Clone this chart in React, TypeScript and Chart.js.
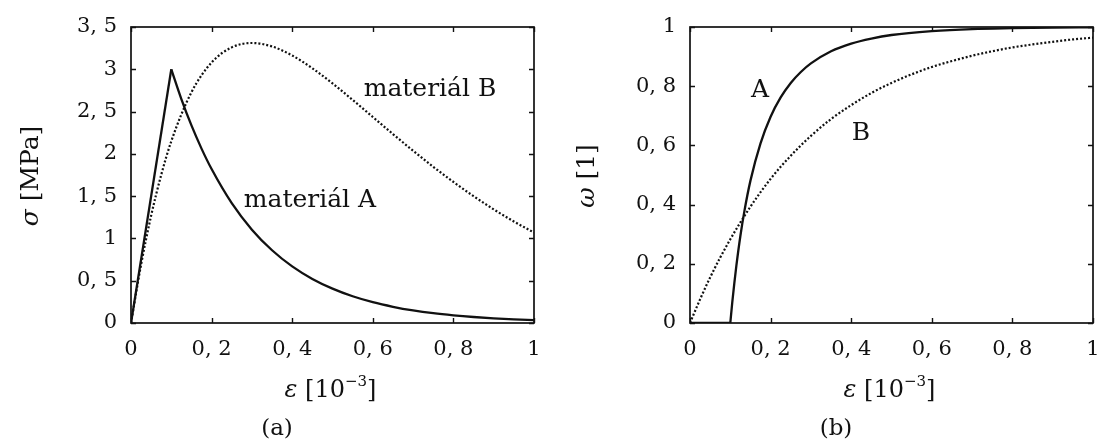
import React, { useEffect, useRef } from "react";
import { Chart, registerables } from "chart.js";

Chart.register(...registerables);

// ---------- data ----------
const xTickLabels = ["0", "0, 2", "0, 4", "0, 6", "0, 8", "1"];
const sigmaTickLabels = ["0", "0, 5", "1", "1, 5", "2", "2, 5", "3", "3, 5"];
const omegaTickLabels = ["0", "0, 2", "0, 4", "0, 6", "0, 8", "1"];

// material A – stress (linear rise, then softening)
const strainARise = [0, 0.1];
const sigmaARise = [0, 3];
const strainADecay = [0.1, 0.125, 0.15, 0.175, 0.2, 0.25, 0.3, 0.35, 0.4, 0.45, 0.5, 0.55, 0.6, 0.65, 0.7, 0.75, 0.8, 0.85, 0.9, 0.95, 1.0];
const sigmaADecay = [3, 2.648, 2.336, 2.062, 1.82, 1.417, 1.104, 0.86, 0.669, 0.521, 0.406, 0.316, 0.246, 0.192, 0.149, 0.116, 0.091, 0.071, 0.055, 0.043, 0.033];

// material B – stress and damage
const strainB = [0, 0.025, 0.05, 0.075, 0.1, 0.15, 0.2, 0.25, 0.3, 0.35, 0.4, 0.45, 0.5, 0.55, 0.6, 0.65, 0.7, 0.75, 0.8, 0.85, 0.9, 0.95, 1.0];
const sigmaB = [0, 0.69, 1.27, 1.752, 2.15, 2.729, 3.08, 3.259, 3.311, 3.27, 3.163, 3.012, 2.833, 2.638, 2.436, 2.234, 2.037, 1.847, 1.668, 1.5, 1.344, 1.2, 1.07];
const omegaB = [0, 0.08, 0.154, 0.221, 0.283, 0.393, 0.487, 0.565, 0.632, 0.689, 0.736, 0.777, 0.811, 0.84, 0.865, 0.885, 0.903, 0.918, 0.931, 0.941, 0.95, 0.958, 0.964];

// material A – damage
const strainAFlat = [0, 0.1];
const omegaAFlat = [0, 0];
const strainAGrow = [0.1, 0.105, 0.11, 0.115, 0.125, 0.135, 0.15, 0.175, 0.2, 0.225, 0.25, 0.275, 0.3, 0.35, 0.4, 0.45, 0.5, 0.6, 0.7, 0.8, 0.9, 1.0];
const omegaAGrow = [0, 0.071, 0.135, 0.193, 0.294, 0.378, 0.481, 0.607, 0.697, 0.762, 0.811, 0.848, 0.877, 0.918, 0.944, 0.961, 0.973, 0.986, 0.993, 0.996, 0.998, 0.999];

const FONT = '"DejaVu Serif", "Liberation Serif", serif';
const INK = "#111111";

const pts = (xs: number[], ys: number[]) => xs.map((x, i) => ({ x, y: ys[i] }));

type Seg = { t: string; italic?: boolean; size: number; dy?: number };

function drawSegs(ctx: CanvasRenderingContext2D, segs: Seg[], cx: number, y: number) {
  const font = (s: Seg) => `${s.italic ? "italic " : ""}${s.size}px ${FONT}`;
  let total = 0;
  segs.forEach((s) => {
    ctx.font = font(s);
    total += ctx.measureText(s.t).width;
  });
  let x = cx - total / 2;
  ctx.textAlign = "left";
  segs.forEach((s) => {
    ctx.font = font(s);
    ctx.fillText(s.t, x, y + (s.dy || 0));
    x += ctx.measureText(s.t).width;
  });
}

function makeDecor(cfg: any) {
  return {
    id: "decor",
    afterDraw(chart: any) {
      const { ctx, chartArea: a, scales } = chart;
      const xs = scales.x;
      const ys = scales.y;
      ctx.save();
      // frame
      ctx.strokeStyle = INK;
      ctx.lineWidth = 1.7;
      ctx.strokeRect(a.left, a.top, a.right - a.left, a.bottom - a.top);
      // inward ticks on all four sides
      ctx.lineWidth = 1.4;
      ctx.beginPath();
      xs.ticks.forEach((t: any) => {
        const p = Math.round(xs.getPixelForValue(t.value)) + 0.5;
        ctx.moveTo(p, a.bottom);
        ctx.lineTo(p, a.bottom - 5);
        ctx.moveTo(p, a.top);
        ctx.lineTo(p, a.top + 5);
      });
      ys.ticks.forEach((t: any) => {
        const p = Math.round(ys.getPixelForValue(t.value)) + 0.5;
        ctx.moveTo(a.left, p);
        ctx.lineTo(a.left + 5, p);
        ctx.moveTo(a.right, p);
        ctx.lineTo(a.right - 5, p);
      });
      ctx.stroke();

      ctx.fillStyle = INK;
      ctx.textBaseline = "alphabetic";
      // curve annotations
      cfg.notes.forEach((n: any) => {
        ctx.font = `25px ${FONT}`;
        ctx.textAlign = "center";
        ctx.fillText(n.text, xs.getPixelForValue(n.x), ys.getPixelForValue(n.y));
      });
      // x axis title
      const cx = (a.left + a.right) / 2 - 2;
      drawSegs(
        ctx,
        [
          { t: "ε", italic: true, size: 24 },
          { t: " [10", size: 24 },
          { t: "−3", size: 15, dy: -11 },
          { t: "]", size: 24 },
        ],
        cx,
        a.bottom + 74
      );
      // caption
      drawSegs(ctx, [{ t: cfg.caption, size: 23 }], cfg.captionX, a.bottom + 112);
      // y axis title (rotated)
      ctx.save();
      ctx.translate(cfg.yTitleX, (a.top + a.bottom) / 2 + 1);
      ctx.rotate(-Math.PI / 2);
      ctx.textBaseline = "middle";
      drawSegs(ctx, cfg.yTitle, 0, 0);
      ctx.restore();
      ctx.restore();
    },
  };
}

function lineDs(data: any[], dotted: boolean) {
  return {
    data,
    borderColor: INK,
    borderWidth: dotted ? 2.2 : 2.3,
    borderDash: dotted ? [2, 2] : [],
    pointRadius: 0,
    fill: false,
    cubicInterpolationMode: "monotone" as const,
  };
}

function makeOptions(W: number, plotLeft: number, plotRight: number, yMax: number, yStep: number, yLabels: string[]) {
  const tickFont = { family: FONT, size: 21 };
  return {
    animation: false,
    responsive: false,
    devicePixelRatio: 1,
    layout: { padding: { top: 27, right: W - plotRight, left: 0, bottom: 0 } },
    plugins: { legend: { display: false }, tooltip: { enabled: false } },
    scales: {
      x: {
        type: "linear",
        min: 0,
        max: 1,
        afterFit(s: any) {
          s.height = 120;
          s.paddingLeft = 0;
          s.paddingRight = 0;
        },
        grid: { display: false, drawTicks: false },
        border: { display: false },
        ticks: {
          stepSize: 0.2,
          padding: 14,
          autoSkip: false,
          maxRotation: 0,
          color: INK,
          font: tickFont,
          callback: (_v: any, i: number) => xTickLabels[i],
        },
      },
      y: {
        type: "linear",
        min: 0,
        max: yMax,
        afterFit(s: any) {
          s.width = plotLeft;
          s.paddingTop = 0;
          s.paddingBottom = 0;
        },
        grid: { display: false, drawTicks: false },
        border: { display: false },
        ticks: {
          stepSize: yStep,
          padding: 14,
          autoSkip: false,
          color: INK,
          font: tickFont,
          callback: (_v: any, i: number) => yLabels[i],
        },
      },
    },
  } as any;
}

function Panel(props: { left: number; width: number; build: () => any }) {
  const ref = useRef<HTMLCanvasElement>(null);
  useEffect(() => {
    const chart = new Chart(ref.current as HTMLCanvasElement, props.build());
    return () => chart.destroy();
  }, []);
  return (
    <canvas
      ref={ref}
      width={props.width}
      height={443}
      style={{ position: "absolute", left: props.left, top: 0, width: props.width, height: 443 }}
    />
  );
}

const WA = 560;
const WB = 539;

const buildA = () => ({
  type: "line",
  data: {
    datasets: [
      lineDs(pts(strainARise, sigmaARise), false),
      lineDs(pts(strainADecay, sigmaADecay), false),
      lineDs(pts(strainB, sigmaB), true),
    ],
  },
  options: makeOptions(WA, 131, 534, 3.5, 0.5, sigmaTickLabels),
  plugins: [
    makeDecor({
      notes: [
        { text: "materiál B", x: 0.742, y: 2.68 },
        { text: "materiál A", x: 0.444, y: 1.37 },
      ],
      caption: "(a)",
      captionX: 277,
      yTitleX: 31,
      yTitle: [
        { t: "σ", italic: true, size: 25 },
        { t: " [MPa]", size: 25 },
      ],
    }),
  ],
});

const buildB = () => ({
  type: "line",
  data: {
    datasets: [
      lineDs(pts(strainAFlat, omegaAFlat), false),
      lineDs(pts(strainAGrow, omegaAGrow), false),
      lineDs(pts(strainB, omegaB), true),
    ],
  },
  options: makeOptions(WB, 130, 533, 1, 0.2, omegaTickLabels),
  plugins: [
    makeDecor({
      notes: [
        { text: "A", x: 0.174, y: 0.764 },
        { text: "B", x: 0.424, y: 0.618 },
      ],
      caption: "(b)",
      captionX: 276,
      yTitleX: 27,
      yTitle: [
        { t: "ω", italic: true, size: 25 },
        { t: " [1]", size: 25 },
      ],
    }),
  ],
});

export default function App() {
  return (
    <div style={{ position: "absolute", left: 0, top: 0, width: 1099, height: 443, background: "#fff", overflow: "hidden" }}>
      <Panel left={0} width={WA} build={buildA} />
      <Panel left={WA} width={WB} build={buildB} />
    </div>
  );
}
